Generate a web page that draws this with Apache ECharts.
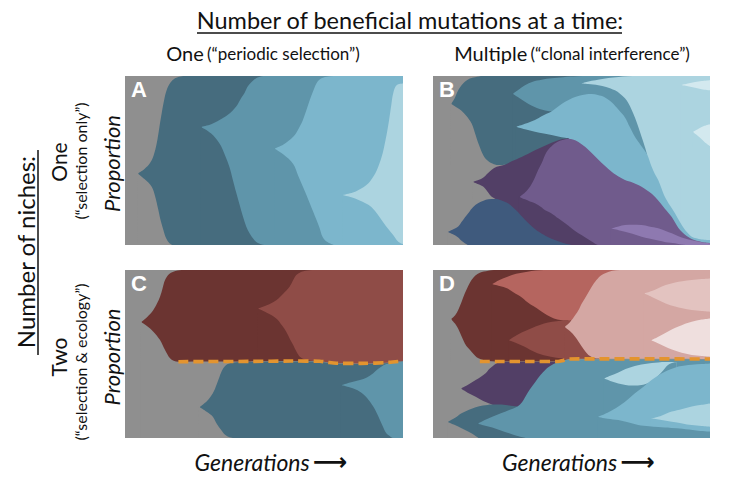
<!DOCTYPE html>
<html><head><meta charset="utf-8">
<script src="https://cdn.jsdelivr.net/npm/echarts@6/dist/echarts.min.js"></script>
<style>html,body{margin:0;padding:0;background:#fff}#c{width:729px;height:482px}</style>
</head><body><div id="c"></div>
<script>
// ---------- Panel A boundaries [generation %, proportion] ----------
const A_U1=[[4.8,0.425],[7,0.45],[9,0.485],[10.3,0.53],[11.4,0.60],[12.3,0.69],[13.2,0.78],[14.1,0.86],[15,0.917],[16.3,0.96],[18,0.986],[20,0.997],[22,1],[100,1]];
const A_U2=[[27.6,0.70],[31,0.715],[34,0.74],[37,0.77],[40,0.82],[41.8,0.87],[43,0.90],[44,0.935],[45,0.956],[46.5,0.98],[48.5,0.996],[51,1],[100,1]];
const A_U3=[[54,0.572],[57,0.595],[60.5,0.64],[62.5,0.69],[64,0.74],[65.3,0.80],[66.5,0.86],[67.8,0.915],[68.9,0.957],[70.5,0.985],[72.5,0.996],[75,1],[100,1]];
const A_U4=[[78.5,0.296],[82,0.31],[84,0.325],[86.5,0.35],[88.5,0.385],[90.5,0.44],[92.3,0.52],[93.7,0.62],[95,0.74],[95.8,0.83],[96.5,0.9],[97.7,0.946],[100,0.956]];
const A_L4=[[78.1,0.296],[82,0.28],[84,0.266],[86.5,0.247],[88.5,0.227],[90.5,0.19],[92.3,0.148],[93.7,0.115],[95,0.089],[96.4,0.06],[97.7,0.03],[99,0.012],[100,0.005]];
const A_L3=[[53.6,0.572],[57,0.535],[60.5,0.48],[62.3,0.41],[64,0.345],[65.3,0.295],[66.5,0.246],[67.7,0.197],[68.9,0.148],[70,0.1],[71,0.05],[72.5,0.02],[75,0]];
const A_L2=[[27.2,0.70],[31,0.66],[34,0.60],[36,0.53],[37.6,0.46],[38.8,0.385],[40,0.31],[41.2,0.24],[42.4,0.17],[43.6,0.11],[44.8,0.069],[46.5,0.03],[48,0.01],[50,0]];
const A_L1=[[4.4,0.425],[7,0.39],[9.6,0.345],[10.8,0.29],[12,0.207],[12.9,0.14],[13.8,0.089],[14.8,0.04],[16,0.01],[17,0]];

// ---------- Panel B ----------
const B_UT1=[[6.7,0.838],[8,0.875],[9.1,0.915],[10.3,0.945],[11.5,0.966],[13.3,0.985],[15.2,0.993],[18,1],[100,1]];
const B_UT2=[[29,0.897],[31,0.92],[33.2,0.945],[36,0.966],[39.2,0.978],[42.8,0.986],[47,0.993],[52,0.998],[56,1],[100,1]];
const B_UT4=[[53.7,0.957],[55,0.963],[57.3,0.972],[60,0.98],[63.3,0.988],[67,0.994],[70,0.998],[74,1],[100,1]];
const B_UT5=[[89.8,0.947],[92,0.955],[94.6,0.964],[97,0.97],[100,0.975]];
const B_LT5=[[89.4,0.947],[92,0.94],[94.6,0.93],[97,0.922],[100,0.915]];
const B_UT6=[[94,0.671],[96,0.69],[98,0.705],[100,0.715]];
const B_LT6=[[93.6,0.671],[96,0.64],[98,0.61],[100,0.585]];
const B_LT4=[[53.3,0.957],[56,0.952],[59.7,0.946],[62.5,0.935],[65.7,0.915],[67.5,0.895],[69.3,0.868],[70.5,0.84],[71.7,0.80],[73,0.75],[74.1,0.70],[75.3,0.64],[76.5,0.58],[77.3,0.535]];
const B_LT2=[[28.6,0.897],[31,0.872],[33.2,0.848],[35.5,0.825],[37.5,0.81],[39.5,0.80],[41.5,0.793],[42.8,0.79]];
const B_UT3=[[30.2,0.70],[33.2,0.717],[36.8,0.74],[39.2,0.762],[41,0.777],[42.8,0.79],[45.2,0.82],[47.7,0.848],[51.3,0.876],[54.9,0.891],[57.3,0.893],[59.5,0.888],[61.8,0.876],[64.5,0.845],[67,0.80],[69.3,0.755],[71,0.70],[72.9,0.64],[75,0.59],[77.3,0.535],[78.9,0.464],[80.1,0.42],[81.3,0.385],[82.5,0.335],[83.7,0.286],[85.5,0.235],[87.4,0.187],[89.2,0.135],[91,0.089],[92.3,0.065],[93.4,0.049],[95,0.04],[97,0.033],[100,0.03]];
const B_LT3=[[29.8,0.70],[33.2,0.685],[36.8,0.67],[40,0.66],[42.8,0.651],[45.2,0.642],[47.7,0.634],[49,0.631]];
const B_LT1=[[6.3,0.838],[8,0.82],[10.3,0.795],[12,0.765],[13.9,0.72],[15.2,0.66],[16.4,0.60],[18.2,0.53],[20,0.495],[22,0.478],[24,0.473],[26,0.475]];
const B_UP1=[[14.6,0.375],[16.4,0.385],[18.2,0.40],[19.8,0.425],[21.2,0.445],[23,0.463],[26,0.475],[28.4,0.495],[32,0.52],[36.8,0.56],[40,0.585],[42.8,0.605],[45.2,0.62],[47.7,0.628],[49,0.63]];
const B_UP2=[[31.4,0.286],[33.2,0.31],[35,0.345],[36.8,0.40],[38,0.445],[39.2,0.483],[41,0.55],[42.8,0.585],[45.2,0.612],[47.7,0.626],[49,0.629],[50.5,0.625],[52.5,0.61],[55,0.58],[57.3,0.545],[60,0.50],[63.3,0.45],[66,0.415],[69.3,0.385],[72,0.37],[75.3,0.345],[78,0.315],[80.1,0.286],[82,0.25],[83.7,0.215],[85,0.19],[86.2,0.165],[87.5,0.13],[88.6,0.10],[90,0.075],[91,0.06],[93.4,0.035],[97,0.018],[100,0.012]];
const B_UP3=[[64.5,0.099],[67,0.11],[69.3,0.118],[72,0.12],[75.3,0.118],[78,0.11],[81.3,0.099],[84,0.083],[86.2,0.069],[88.6,0.052],[91,0.039],[93.5,0.028],[95.8,0.02],[98,0.013],[100,0.01]];
const B_LP3=[[64.1,0.099],[67,0.088],[69.3,0.079],[72,0.066],[75.3,0.049],[78,0.038],[81.3,0.026],[84,0.017],[87.4,0.01],[89,0.004],[91,0]];
const B_LP2=[[31,0.286],[33.2,0.27],[35,0.258],[36.8,0.247],[39,0.225],[40.5,0.205],[42.8,0.187],[45.2,0.158],[47.7,0.128],[50.1,0.097],[52.5,0.069],[55,0.045],[57.3,0.02],[58.5,0.008],[59.7,0]];
const B_LP1=[[14.2,0.375],[16.4,0.36],[18.2,0.345],[19.5,0.32],[20.5,0.298],[21.5,0.282],[22.5,0.273]];
const B_UN1=[[5.5,0.079],[7,0.09],[9.1,0.11],[10.5,0.14],[11.5,0.163],[12.8,0.19],[14.5,0.225],[16.4,0.248],[18.2,0.262],[20,0.27],[22.4,0.272],[24.5,0.265],[27.2,0.245],[30,0.205],[33.2,0.15],[36.8,0.095],[40,0.06],[43,0.035],[47,0.012],[50,0]];
const B_LN1=[[5.1,0.079],[7,0.065],[9.1,0.045],[10.3,0.025],[11.5,0.01],[12.5,0]];

// ---------- Panel C ----------
const C_dash=[[19.2,0.454],[30,0.455],[45,0.456],[60,0.458],[70,0.457],[73,0.45],[76,0.445],[85,0.444],[95,0.45],[100,0.458]];
const C_RU1=[[6,0.692],[8,0.72],[10.2,0.762],[11.5,0.80],[12.6,0.841],[13.5,0.89],[14.4,0.94],[15.8,0.975],[17.4,0.99],[20.4,1],[100,1]];
const C_RU2=[[48,0.772],[51,0.79],[54.4,0.82],[57,0.86],[59.2,0.90],[60.5,0.94],[61.6,0.97],[63.5,0.99],[66.4,0.999],[68,1],[100,1]];
const C_RL2=[[47.6,0.772],[51,0.745],[54.4,0.712],[56.5,0.67],[58,0.633],[59.3,0.59],[60.5,0.553],[61.8,0.51],[62.9,0.484],[64.5,0.468],[66,0.462],[68,0.458]];
const C_RL1=[[5.6,0.692],[8,0.665],[10.2,0.633],[12.6,0.583],[14.4,0.524],[16.2,0.474],[17.5,0.46],[19.2,0.454],[30,0.455],[45,0.456],[60,0.458],[70,0.457],[73,0.45],[76,0.445],[85,0.444],[95,0.45],[100,0.458]];
const C_TU1=[[27,0.186],[29.5,0.22],[31.6,0.266],[33,0.32],[34,0.365],[35.2,0.41],[36.5,0.436],[38.5,0.448],[45,0.452],[60,0.455],[70,0.454],[73,0.447],[76,0.442],[85,0.441],[95,0.447],[100,0.455]];
const C_TU2=[[78,0.315],[81,0.33],[84.5,0.345],[87,0.36],[89.3,0.385],[91,0.41],[92.3,0.425],[94,0.44],[96,0.445],[100,0.455]];
const C_TL2=[[77.6,0.315],[81,0.30],[84.5,0.276],[87,0.24],[89.3,0.187],[90.5,0.15],[91.7,0.107],[93,0.06],[94,0.028],[95.5,0.008],[96.4,0]];
const C_TL1=[[26.6,0.186],[29.5,0.155],[31.6,0.127],[33,0.085],[34.6,0.048],[36,0.02],[37.6,0.005],[39,0]];

// ---------- Panel D ----------
const D_dash=[[16.9,0.455],[25,0.455],[35,0.455],[45.2,0.455],[47,0.462],[49,0.47],[60,0.471],[80,0.471],[100,0.47]];
const D_RU1=[[6.7,0.71],[8,0.73],[9.1,0.762],[10.3,0.81],[11.5,0.861],[12.7,0.905],[13.9,0.94],[15.3,0.968],[16.9,0.984],[19.9,0.996],[22,1],[100,1]];
const D_RU2=[[21.5,0.917],[24,0.94],[26.9,0.96],[30,0.977],[34.1,0.99],[37,0.997],[40,1],[100,1]];
const D_RL2=[[21.1,0.917],[24,0.905],[26.9,0.89],[29,0.868],[31.7,0.841],[34,0.81],[36.5,0.782],[38.5,0.76],[40.1,0.742],[42.5,0.72],[44.9,0.705],[47,0.70],[48.9,0.70]];
const D_RU3=[[27.5,0.583],[30,0.61],[32,0.628],[34.1,0.643],[37,0.663],[40.1,0.681],[43,0.692],[46.1,0.698],[48.9,0.70],[49.8,0.703]];
const D_RU4=[[47.7,0.663],[49.5,0.69],[51.3,0.73],[52.8,0.77],[53.7,0.80],[55.5,0.85],[57.3,0.90],[59,0.94],[60.9,0.97],[63.5,0.99],[66,0.998],[69,1],[100,1]];
const D_UPk2=[[76.4,0.861],[79,0.875],[81.3,0.891],[84,0.91],[87.4,0.925],[90,0.933],[93.4,0.94],[97,0.946],[100,0.95]];
const D_LPk2=[[76,0.861],[79,0.84],[81.3,0.821],[84,0.80],[87.4,0.782],[90,0.772],[93.4,0.762],[97,0.756],[100,0.752]];
const D_UPk3=[[78.9,0.583],[81,0.60],[83.7,0.623],[86,0.645],[88.6,0.663],[91,0.68],[93.4,0.692],[97,0.705],[100,0.712]];
const D_LPk3=[[78.5,0.583],[81,0.565],[83.7,0.544],[86,0.528],[88.6,0.514],[91,0.503],[93.4,0.494],[97,0.488],[100,0.484]];
const D_RL4=[[47.3,0.663],[49.5,0.635],[51.3,0.603],[52.5,0.575],[53.7,0.544],[55,0.515],[56.1,0.494],[57.3,0.482],[58.5,0.474],[60,0.472]];
const D_RL3=[[27.1,0.583],[30,0.565],[32.9,0.544],[35,0.525],[37.7,0.504],[40,0.493],[42.5,0.484],[44.5,0.478],[46.1,0.474],[47.5,0.47],[48.6,0.47]];
const D_RL1=[[6.3,0.71],[8,0.68],[9.1,0.65],[10.3,0.605],[11.5,0.563],[12.7,0.535],[13.9,0.514],[15.2,0.49],[16.4,0.474],[18.2,0.464],[20,0.458],[25,0.455],[35,0.455],[45.2,0.455],[47,0.462],[49,0.47],[60,0.471],[80,0.471],[100,0.47]];
const D_UPu=[[10.3,0.296],[12.5,0.315],[15.4,0.345],[17.3,0.365],[19,0.385],[20.3,0.41],[21.4,0.425],[23.2,0.446],[25,0.452],[35,0.452],[45,0.452]];
const D_LPu=[[9.9,0.296],[12.5,0.27],[15.4,0.246],[17.3,0.228],[19,0.215],[20.3,0.206],[21.4,0.2]];
const D_UT1=[[5.5,0.097],[8,0.12],[10.3,0.147],[13,0.168],[15.4,0.183],[18,0.193],[21.4,0.2],[24,0.2],[27,0.195],[29,0.19],[30.5,0.188]];
const D_UT2=[[16.4,0.087],[18.5,0.105],[21.4,0.127],[24.5,0.147],[27.5,0.167],[30.5,0.188],[32.2,0.215],[33.5,0.25],[35,0.29],[37,0.335],[38.8,0.375],[40.5,0.405],[42,0.425],[43.5,0.44],[45.2,0.452],[47,0.459],[49,0.466],[60,0.467],[80,0.467],[100,0.466]];
const D_UT3=[[61.9,0.355],[64,0.37],[66.9,0.39],[69.5,0.41],[71.7,0.423],[74,0.433],[76.5,0.44],[79,0.446],[81.3,0.45],[84,0.452],[88,0.452]];
const D_LT3=[[61.5,0.355],[64,0.34],[66.9,0.325],[69.5,0.316],[71.7,0.312],[74,0.313],[76.5,0.32],[79,0.34],[81.3,0.37],[83,0.40],[84.5,0.43],[86,0.445],[88,0.452]];
const D_UT4=[[59.7,0.127],[63,0.15],[66.9,0.187],[70,0.225],[72.9,0.266],[76,0.305],[78.9,0.345],[81.3,0.372],[83.7,0.395],[86,0.41],[88.6,0.425],[91,0.432],[93.4,0.436],[97,0.44],[100,0.444]];
const D_UT5=[[78.9,0.117],[82,0.13],[86.2,0.157],[90,0.173],[93.4,0.187],[97,0.198],[100,0.206]];
const D_LT5=[[78.5,0.117],[82,0.108],[86.2,0.097],[90,0.087],[93.4,0.077],[97,0.071],[100,0.067]];
const D_LT4=[[59.3,0.127],[63,0.115],[66.9,0.107],[70,0.095],[74.1,0.077],[78,0.07],[81.3,0.065],[86,0.06],[90,0.055],[95,0.045],[100,0.038]];
const D_LT2=[[16,0.087],[18.5,0.075],[21.4,0.062],[24.5,0.045],[27.5,0.028],[30.5,0.012],[33.5,0]];
const D_LT1=[[5.1,0.097],[7.5,0.08],[10.3,0.058],[12.5,0.04],[14.2,0.025],[15.5,0.01],[16.4,0]];

// ---------- colours ----------
const GRAY='#8f8f8f', DT='#466c7e', MT='#5f95aa', LB='#7cb6cc', PB='#acd4e0', XB='#d3e9ef',
      NV='#3f5a7d', DP='#523f66', PU='#705b8c', LV='#8e79b0',
      R1='#6b3431', R3='#8f4c47', SA='#b5655f', PK='#d4a7a3', PK2='#e3c3c0', PK3='#efdfde', DASH='#e3942f';

// layers drawn in order (each filled from 0 up to its boundary)
const layers=[
 [0,[[A_U1,DT],[A_U2,MT],[A_U3,LB],[A_U4,PB],[A_L4,LB],[A_L3,MT],[A_L2,DT],[A_L1,GRAY]]],
 [1,[[B_UT1,DT],[B_UT2,MT],[B_UT4,PB],[B_UT5,XB],[B_LT5,PB],[B_UT6,XB],[B_LT6,PB],[B_LT4,MT],[B_LT2,DT],[B_UT3,LB],[B_LT3,DT],[B_LT1,GRAY],
     [B_UP1,DP],[B_UP2,PU],[B_UP3,LV],[B_LP3,PU],[B_LP2,DP],[B_LP1,GRAY],[B_UN1,NV],[B_LN1,GRAY]]],
 [2,[[C_RU1,R1],[C_RU2,R3],[C_RL2,R1],[C_RL1,GRAY],[C_TU1,DT],[C_TU2,MT],[C_TL2,DT],[C_TL1,GRAY]]],
 [3,[[D_RU1,R1],[D_RU2,SA],[D_RL2,R1],[D_RU3,R3],[D_RU4,PK],[D_UPk2,PK2],[D_LPk2,PK],[D_UPk3,PK3],[D_LPk3,PK],[D_RL4,R3],[D_RL3,R1],[D_RL1,GRAY],
     [D_UPu,DP],[D_LPu,GRAY],[D_UT1,DT],[D_UT2,MT],[D_UT3,PB],[D_LT3,MT],[D_UT4,LB],[D_UT5,PB],[D_LT5,LB],[D_LT4,MT],[D_LT2,DT],[D_LT1,GRAY]]]
];

const series=[];
layers.forEach(([g,list])=>{
  list.forEach(([d,col])=>{
    series.push({type:'line',xAxisIndex:g,yAxisIndex:g,data:d,smooth:0.35,symbol:'none',
      lineStyle:{width:0},areaStyle:{color:col,opacity:1},silent:true,animation:false});
  });
});
[[2,C_dash],[3,D_dash]].forEach(([g,d])=>{
  series.push({type:'line',xAxisIndex:g,yAxisIndex:g,data:d,smooth:0.3,symbol:'none',z:5,
    lineStyle:{color:DASH,width:3.6,type:[10,5]},silent:true,animation:false});
});

const FONT='Lato, "Open Sans", sans-serif';
const grids=[
 {left:125,top:76,width:278,height:169},
 {left:433,top:76,width:277,height:169},
 {left:125,top:270,width:278,height:168},
 {left:433,top:270,width:277,height:168}
].map(g=>Object.assign(g,{show:true,backgroundColor:GRAY,borderWidth:0}));

const xAxes=[0,1,2,3].map(i=>({type:'value',gridIndex:i,min:0,max:100,show:true,
  axisLine:{show:false},axisTick:{show:false},axisLabel:{show:false},splitLine:{show:false},
  name:i>=2?'{t|Generations} {a|⟶}':'',nameLocation:'middle',nameGap:12,
  nameTextStyle:{padding:[0,0,0,14],rich:{t:{fontFamily:FONT,fontStyle:'italic',fontSize:23,color:'#111'},
                       a:{fontFamily:'DejaVu Sans',fontWeight:'bold',fontSize:24,color:'#111'}}}}));
const yAxes=[0,1,2,3].map(i=>({type:'value',gridIndex:i,min:0,max:1,show:true,
  axisLine:{show:false},axisTick:{show:false},axisLabel:{show:false},splitLine:{show:false},
  name:(i%2===0)?'Proportion':'',nameLocation:'middle',nameGap:3,nameRotate:90,
  nameTextStyle:{fontFamily:FONT,fontStyle:'italic',fontSize:22,color:'#111',padding:[0,6,0,0]}}));

const txt=(x,y,text,size,extra)=>({type:'text',x:x,y:y,silent:true,
  style:Object.assign({text:text,fontFamily:FONT,fontSize:size,fill:'#111',align:'center',verticalAlign:'middle'},extra||{})});
const R90=Math.PI/2;
const graphic=[
  txt(410,20,'Number of beneficial mutations at a time:',23.5),
  {type:'line',shape:{x1:197,y1:33,x2:622,y2:33},style:{stroke:'#111',lineWidth:1.5},silent:true},
  {type:'text',x:263,y:53,silent:true,style:{text:'{b|One} {s|(“periodic selection”)}',align:'center',verticalAlign:'middle',
     rich:{b:{fontFamily:FONT,fontSize:20,fill:'#111'},s:{fontFamily:FONT,fontSize:17,fill:'#111'}}}},
  {type:'text',x:572,y:53,silent:true,style:{text:'{b|Multiple} {s|(“clonal interference”)}',align:'center',verticalAlign:'middle',
     rich:{b:{fontFamily:FONT,fontSize:20,fill:'#111'},s:{fontFamily:FONT,fontSize:17,fill:'#111'}}}},
  Object.assign(txt(25,252,'Number of niches:',24),{rotation:R90}),
  {type:'line',shape:{x1:38,y1:150,x2:38,y2:355},style:{stroke:'#111',lineWidth:1.5},silent:true},
  Object.assign(txt(58,162,'One',21),{rotation:R90}),
  Object.assign(txt(80,161,'(“selection only”)',16),{rotation:R90}),
  Object.assign(txt(58,357,'Two',21),{rotation:R90}),
  Object.assign(txt(80,362,'(“selection & ecology”)',16),{rotation:R90}),
  txt(139,89,'A',22,{fontFamily:'Liberation Sans',fontWeight:'bold',fill:'#fff'}),
  txt(447,89,'B',22,{fontFamily:'Liberation Sans',fontWeight:'bold',fill:'#fff'}),
  txt(139,283,'C',22,{fontFamily:'Liberation Sans',fontWeight:'bold',fill:'#fff'}),
  txt(447,283,'D',22,{fontFamily:'Liberation Sans',fontWeight:'bold',fill:'#fff'})
];
graphic.forEach(g=>{g.z=100;});

const chart=echarts.init(document.getElementById('c'),null,{renderer:'svg'});
chart.setOption({animation:false,backgroundColor:'#fff',grid:grids,xAxis:xAxes,yAxis:yAxes,series:series,graphic:graphic});
</script></body></html>
